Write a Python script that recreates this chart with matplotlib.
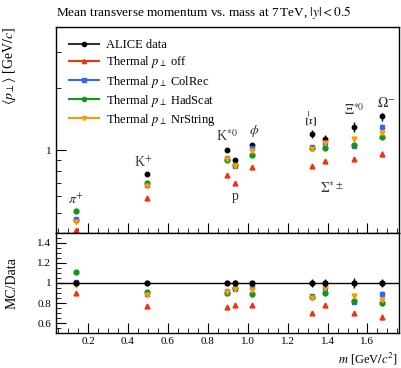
import numpy as np
import matplotlib
matplotlib.use("Agg")
import matplotlib.pyplot as plt
from matplotlib.lines import Line2D
from matplotlib.ticker import FixedLocator, FixedFormatter, NullFormatter, MultipleLocator

plt.rcParams['font.family'] = ['Liberation Serif', 'DejaVu Serif']
plt.rcParams['mathtext.fontset'] = 'stix'

# hadron masses [GeV/c^2]
mass = [0.1396, 0.4937, 0.8958, 0.9383, 1.0195, 1.3217, 1.3850, 1.5318, 1.6725]
names = [r'$\pi^{+}$', r'K$^{+}$', r'K$^{*0}$', 'p', r'$\phi$', r'$\Xi^{-}$',
         r'$\Sigma^{*\pm}$', r'$\Xi^{*0}$', r'$\Omega^{-}$']

# ALICE <pT> and its uncertainty
data = [0.46, 0.767, 1.00, 0.895, 1.065, 1.20, 1.14, 1.30, 1.46]
data_err = [0.005, 0.006, 0.02, 0.025, 0.02, 0.05, 0.05, 0.07, 0.065]

# MC / data ratios
r_off = [0.90, 0.77, 0.76, 0.78, 0.78, 0.70, 0.78, 0.70, 0.66]
r_colrec = [1.01, 0.89, 0.92, 0.94, 0.96, 0.87, 0.95, 0.81, 0.89]
r_hadscat = [1.11, 0.91, 0.90, 0.95, 0.89, 0.86, 0.90, 0.82, 0.80]
r_nrstring = [0.98, 0.88, 0.91, 0.94, 0.93, 0.85, 0.95, 0.87, 0.83]
mc_err = [0.005, 0.005, 0.01, 0.01, 0.01, 0.01, 0.015, 0.02, 0.03]

# label positions (mass, <pT>)
lab_x = [0.14, 0.475, 0.895, 0.935, 1.03, 1.325, 1.42, 1.535, 1.695]
lab_y = [0.58, 0.87, 1.17, 0.60, 1.24, 1.44, 0.66, 1.57, 1.70]

series = [
    ('Thermal $p_\\perp$ off', r_off, '#EE3311', '^'),
    ('Thermal $p_\\perp$ ColRec', r_colrec, '#3366FF', 's'),
    ('Thermal $p_\\perp$ HadScat', r_hadscat, '#109618', 'o'),
    ('Thermal $p_\\perp$ NrString', r_nrstring, '#FF9900', 'v'),
]

fig = plt.figure(figsize=(4.01, 3.68), dpi=100)
ax = fig.add_axes([0.140, 0.367, 0.856, 0.560])
rx = fig.add_axes([0.140, 0.095, 0.856, 0.272], sharex=ax)

m = np.array(mass)
d = np.array(data)
de = np.array(data_err)

handles = []
ax.errorbar(m, d, yerr=de, fmt='o', color='black', ms=3.2, elinewidth=1)
handles.append(Line2D([], [], color='#333333', lw=1.5, marker='o', ms=3,
                      mfc='black', mec='black', label='ALICE data'))
for lab, r, c, mk in series:
    y = d * np.array(r)
    ax.errorbar(m, y, yerr=y * np.array(mc_err), fmt=mk, color=c, ms=3.5,
                elinewidth=1)
    rx.errorbar(m, r, yerr=mc_err, fmt=mk, color=c, ms=3.5, elinewidth=1)
    handles.append(Line2D([], [], color=c, lw=1.5, marker=mk, ms=3,
                          label=lab))
rx.errorbar(m, np.ones(len(m)), yerr=de / d, fmt='o', color='black', ms=3.5,
            elinewidth=1, zorder=5)
rx.axhline(1, color='black', lw=1, zorder=4)

for n, x, y in zip(names, lab_x, lab_y):
    rot = 90 if n == r'$\Xi^{-}$' else 0
    ax.text(x, y, n, ha='center', va='center', fontsize=10, color='#333333',
            rotation=rot)

ax.set_yscale('log')
ax.set_ylim(0.4, 3.95)
ax.set_xlim(0.04, 1.76)
ax.yaxis.set_major_locator(FixedLocator([1]))
ax.yaxis.set_major_formatter(FixedFormatter(['1']))
ax.yaxis.set_minor_locator(FixedLocator([0.4, 0.5, 0.6, 0.7, 0.8, 0.9, 2, 3]))
ax.yaxis.set_minor_formatter(NullFormatter())
ax.tick_params(axis='x', labelbottom=False)
for a in (ax, rx):
    a.xaxis.set_major_locator(MultipleLocator(0.2))
    a.xaxis.set_minor_locator(MultipleLocator(0.05))
    a.tick_params(which='both', direction='in', labelsize=8)
    a.tick_params(which='major', length=7)
    a.tick_params(which='minor', length=3.5)
    for s in a.spines.values():
        s.set_linewidth(1)
rx.tick_params(axis='x', pad=3)

rx.set_ylim(0.5, 1.5)
rx.yaxis.set_major_locator(FixedLocator([0.6, 0.8, 1.0, 1.2, 1.4]))
rx.yaxis.set_major_formatter(FixedFormatter(['0.6', '0.8', '1', '1.2', '1.4']))
rx.yaxis.set_minor_locator(MultipleLocator(0.05))

ax.legend(handles=handles, loc='upper left', frameon=False, fontsize=9,
          handlelength=2.4, borderaxespad=0.6, labelspacing=0.25,
          handletextpad=0.6)

ax.set_title(r'Mean transverse momentum vs. mass at 7$\,$TeV, $|y| < 0.5$',
             fontsize=9.5, loc='left', x=0.0, pad=8)
ax.set_ylabel(r'$\langle p_\perp \rangle$ [GeV$/c$]', fontsize=10, loc='top')
rx.set_ylabel('MC/Data', fontsize=10)
rx.set_xlabel(r'$m$ [GeV$/c^2$]', fontsize=9, loc='right')
rx.xaxis.label.set_va('bottom')
rx.xaxis.set_label_coords(0.997, -0.335)
ax.yaxis.set_label_coords(-0.11, 1.0)
rx.yaxis.set_label_coords(-0.11, 0.5)

fig.savefig('out.png', dpi=100)
